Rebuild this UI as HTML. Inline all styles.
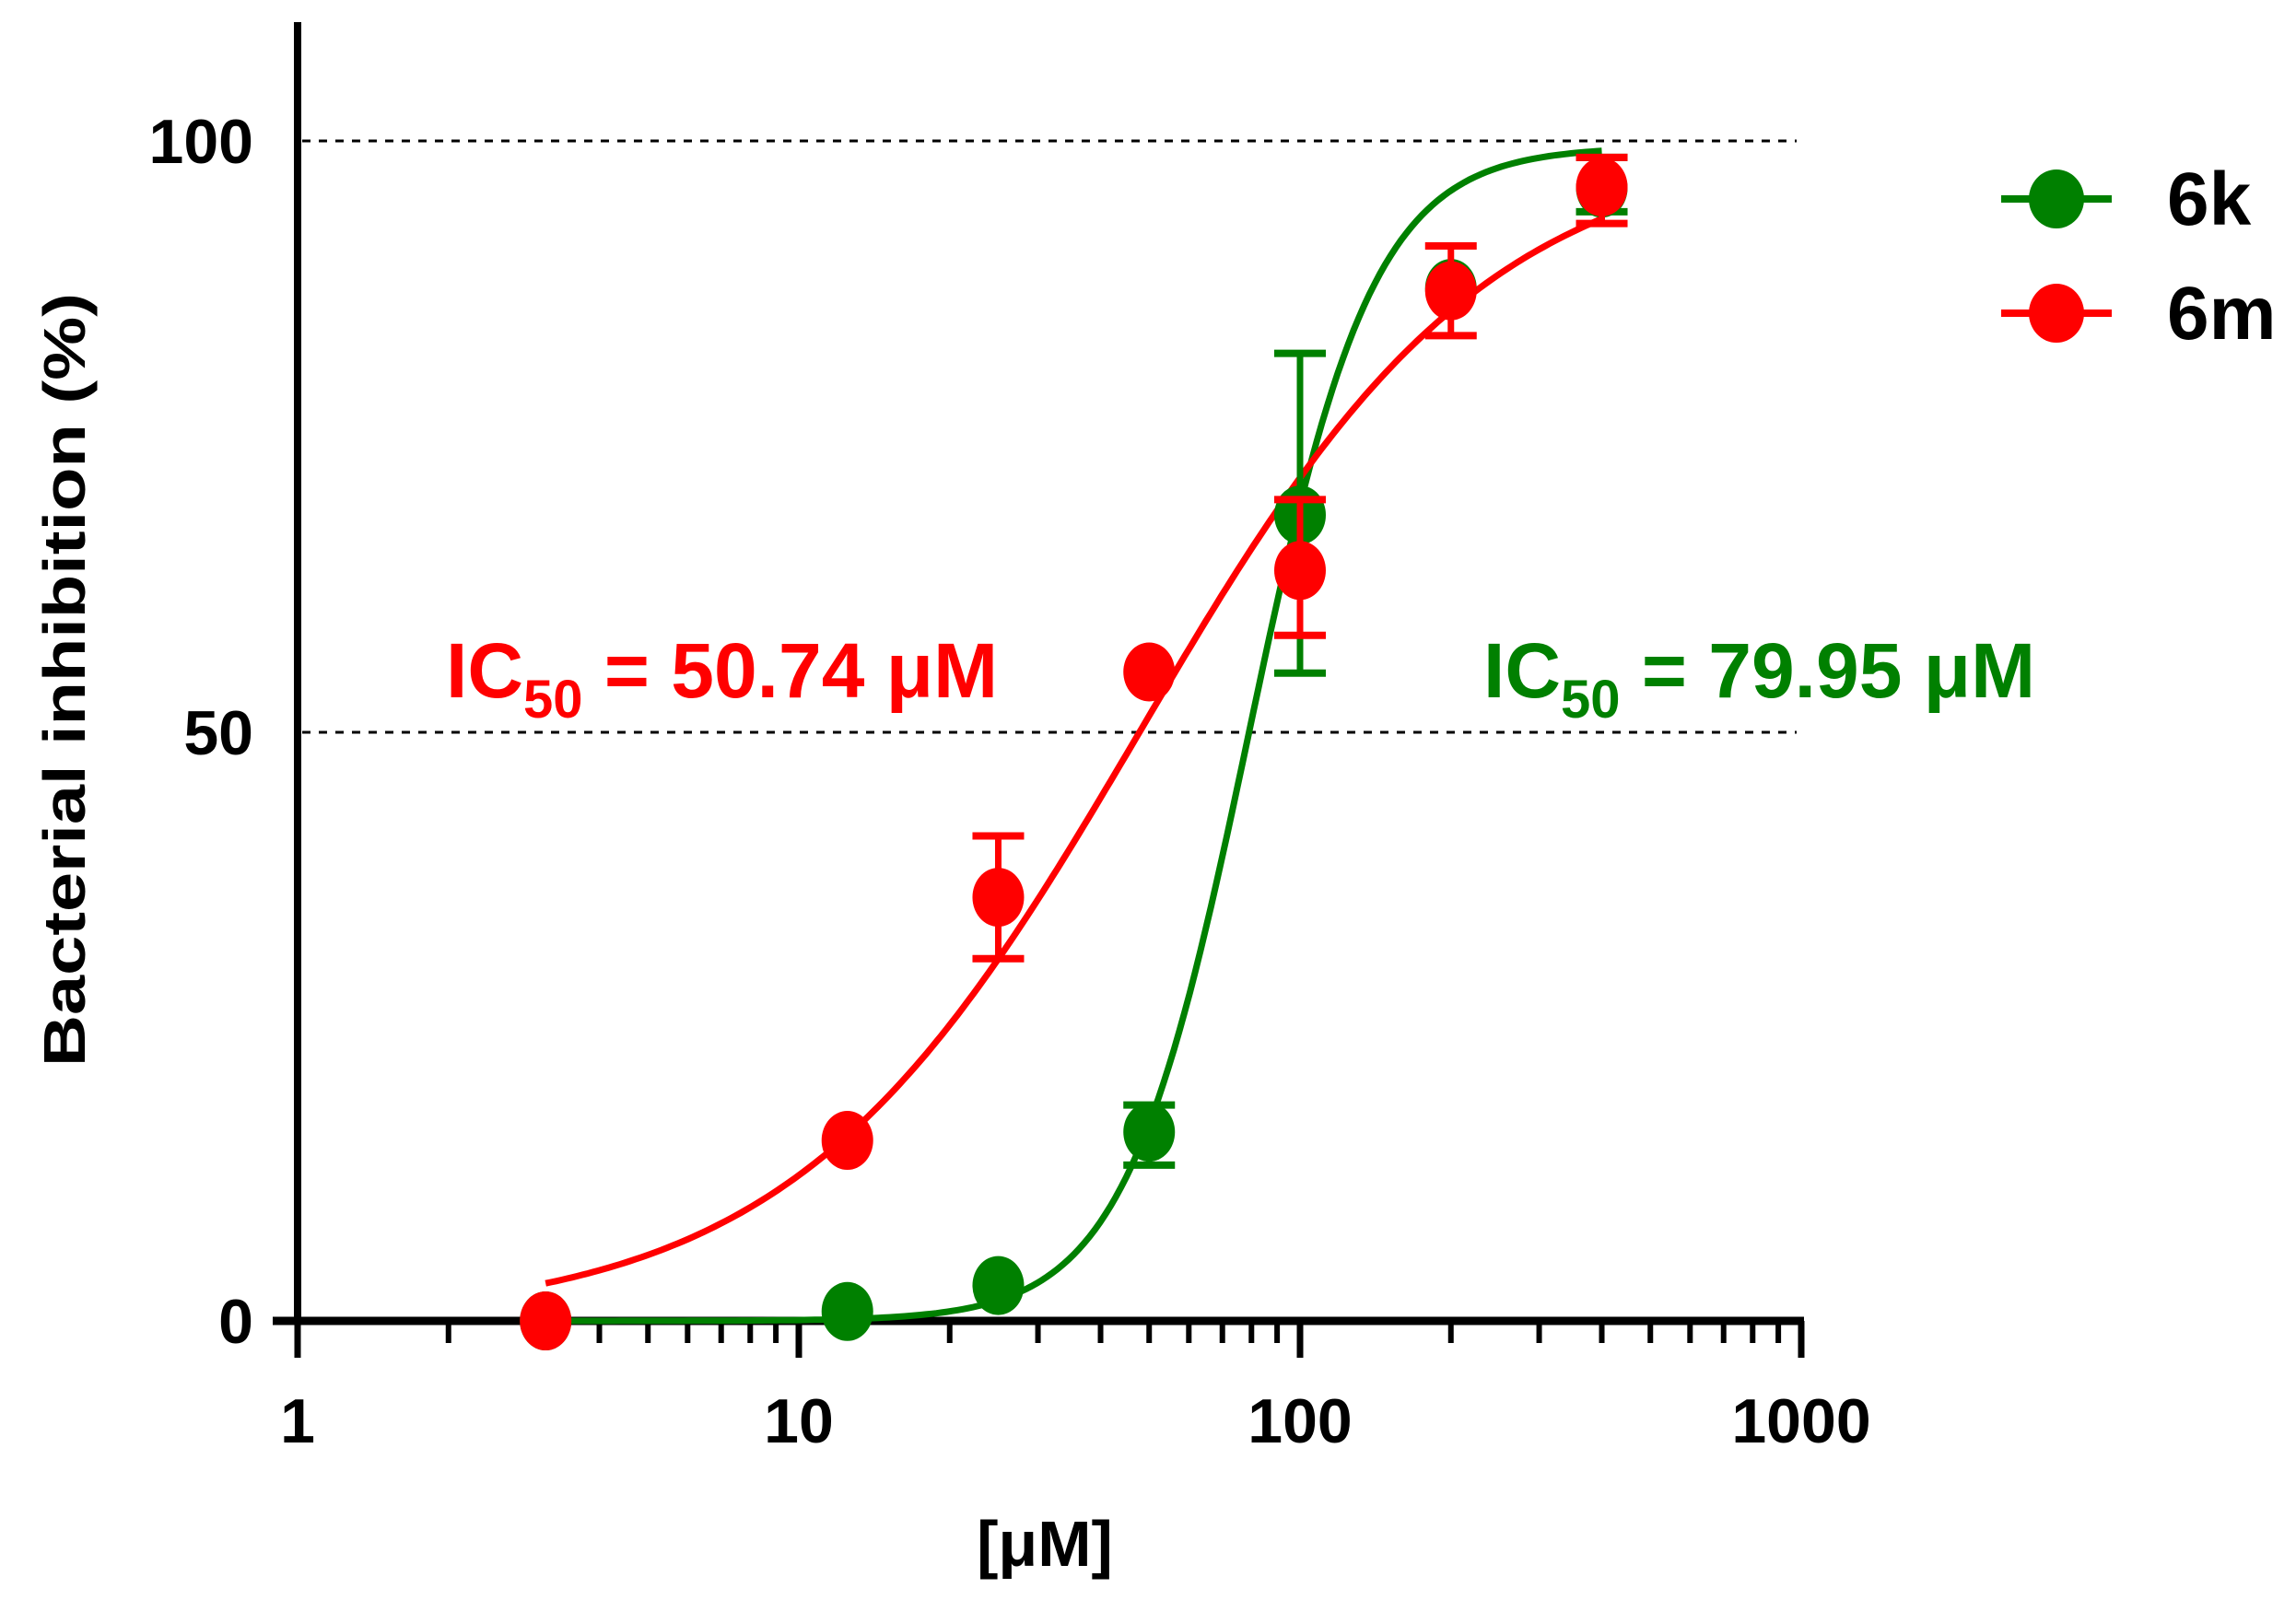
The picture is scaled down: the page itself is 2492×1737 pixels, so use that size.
<!DOCTYPE html>
<html><head><meta charset="utf-8"><style>
html,body{margin:0;padding:0;background:#fff;}
svg{display:block;font-family:"Liberation Sans",Arial,sans-serif;font-weight:bold;}
</style></head><body>
<svg id="s" width="2492" height="1737" viewBox="0 0 2492 1737" xmlns="http://www.w3.org/2000/svg">
<line x1="328" y1="153" x2="1950" y2="153" stroke="#000" stroke-width="3" stroke-dasharray="9,9"/>
<line x1="328" y1="795" x2="1950" y2="795" stroke="#000" stroke-width="3" stroke-dasharray="9,9"/>
<g id="ticks" stroke="#000"></g>
<line x1="323" y1="24" x2="323" y2="1438" stroke="#000" stroke-width="8"/>
<line x1="296" y1="1434" x2="1958" y2="1434" stroke="#000" stroke-width="9"/>
<g font-size="68" text-anchor="end">
<text x="275" y="177">100</text>
<text x="275" y="819">50</text>
<text x="275" y="1458">0</text>
</g>
<g font-size="68" text-anchor="middle">
<text x="323" y="1566">1</text>
<text x="867" y="1566">10</text>
<text x="1411" y="1566">100</text>
<text x="1955" y="1566">1000</text>
</g>
<text x="1134" y="1700" font-size="70" text-anchor="middle">[μM]</text>
<text transform="translate(92,738) rotate(-90)" font-size="64" text-anchor="middle" textLength="840" lengthAdjust="spacingAndGlyphs">Bacterial inhibition (%)</text>
<g id="data"></g>
<text x="484" y="757" font-size="84" fill="#f00">IC<tspan font-size="58" dy="22">50</tspan><tspan dy="-22"> = 50.74 μM</tspan></text>
<text x="1610" y="757" font-size="84" fill="#008000">IC<tspan font-size="58" dy="22">50</tspan><tspan dy="-22"> = 79.95 μM</tspan></text>
<line x1="2172" y1="216" x2="2292" y2="216" stroke="#008000" stroke-width="8"/>
<ellipse cx="2232" cy="216" rx="30" ry="32" fill="#008000"/>
<line x1="2172" y1="340" x2="2292" y2="340" stroke="#f00" stroke-width="8"/>
<ellipse cx="2232" cy="340" rx="30" ry="32" fill="#f00"/>
<text x="2352" y="244" font-size="82">6k</text>
<text x="2352" y="368" font-size="82">6m</text>
</svg>
<script>
var NS="http://www.w3.org/2000/svg";
function X(c){return 323+544*Math.log10(c);}
function Y(p){return 1434-12.81*p;}
function el(n,a,p){var e=document.createElementNS(NS,n);for(var k in a)e.setAttribute(k,a[k]);p.appendChild(e);return e;}
var t=document.getElementById('ticks');
for(var d=0;d<3;d++){for(var m=1;m<=10;m++){var c=Math.pow(10,d)*m;var x=X(c);var maj=(m==1||m==10);
el('line',{x1:x,y1:1434,x2:x,y2:maj?1474:1458,'stroke-width':maj?7:6},t);}}
var g=document.getElementById('data');
function curve(f,col){var s="";for(var i=0;i<=200;i++){var lc=Math.log10(3.125)+i/200*(Math.log10(400)-Math.log10(3.125));var c=Math.pow(10,lc);s+=(i?"L":"M")+X(c).toFixed(1)+","+Y(f(c)).toFixed(1);}
el('path',{d:s,fill:'none',stroke:col,'stroke-width':7},g);}
function eb(c,lo,hi,col){var x=X(c);el('line',{x1:x,y1:Y(lo),x2:x,y2:Y(hi),stroke:col,'stroke-width':7},g);
[lo,hi].forEach(function(v){el('line',{x1:x-28,y1:Y(v),x2:x+28,y2:Y(v),stroke:col,'stroke-width':8},g);});}
var cs=[3.125,12.5,25,50,100,200,400];
var gk=[0,0.8,3,16,68.3,87.5,96];
var rm=[0,15.3,35.9,55,63.6,87.3,96.1];
curve(function(c){return 99.5*Math.pow(c/79,3.5)/(1+Math.pow(c/79,3.5));},'#008000');
curve(function(c){return 100*Math.pow(c/48,1.25)/(1+Math.pow(c/48,1.25));},'#f00');
eb(50,13.2,18.3,'#008000');eb(100,54.9,82,'#008000');eb(400,94,98.6,'#008000');
cs.forEach(function(c,i){el('ellipse',{cx:X(c),cy:Y(gk[i]),rx:28,ry:32,fill:'#008000'},g);});
eb(25,30.7,41.1,'#f00');eb(100,58.1,69.6,'#f00');eb(200,83.5,91.1,'#f00');eb(400,93,98.6,'#f00');
cs.forEach(function(c,i){el('ellipse',{cx:X(c),cy:Y(rm[i]),rx:28,ry:32,fill:'#f00'},g);});
</script>
</body></html>
